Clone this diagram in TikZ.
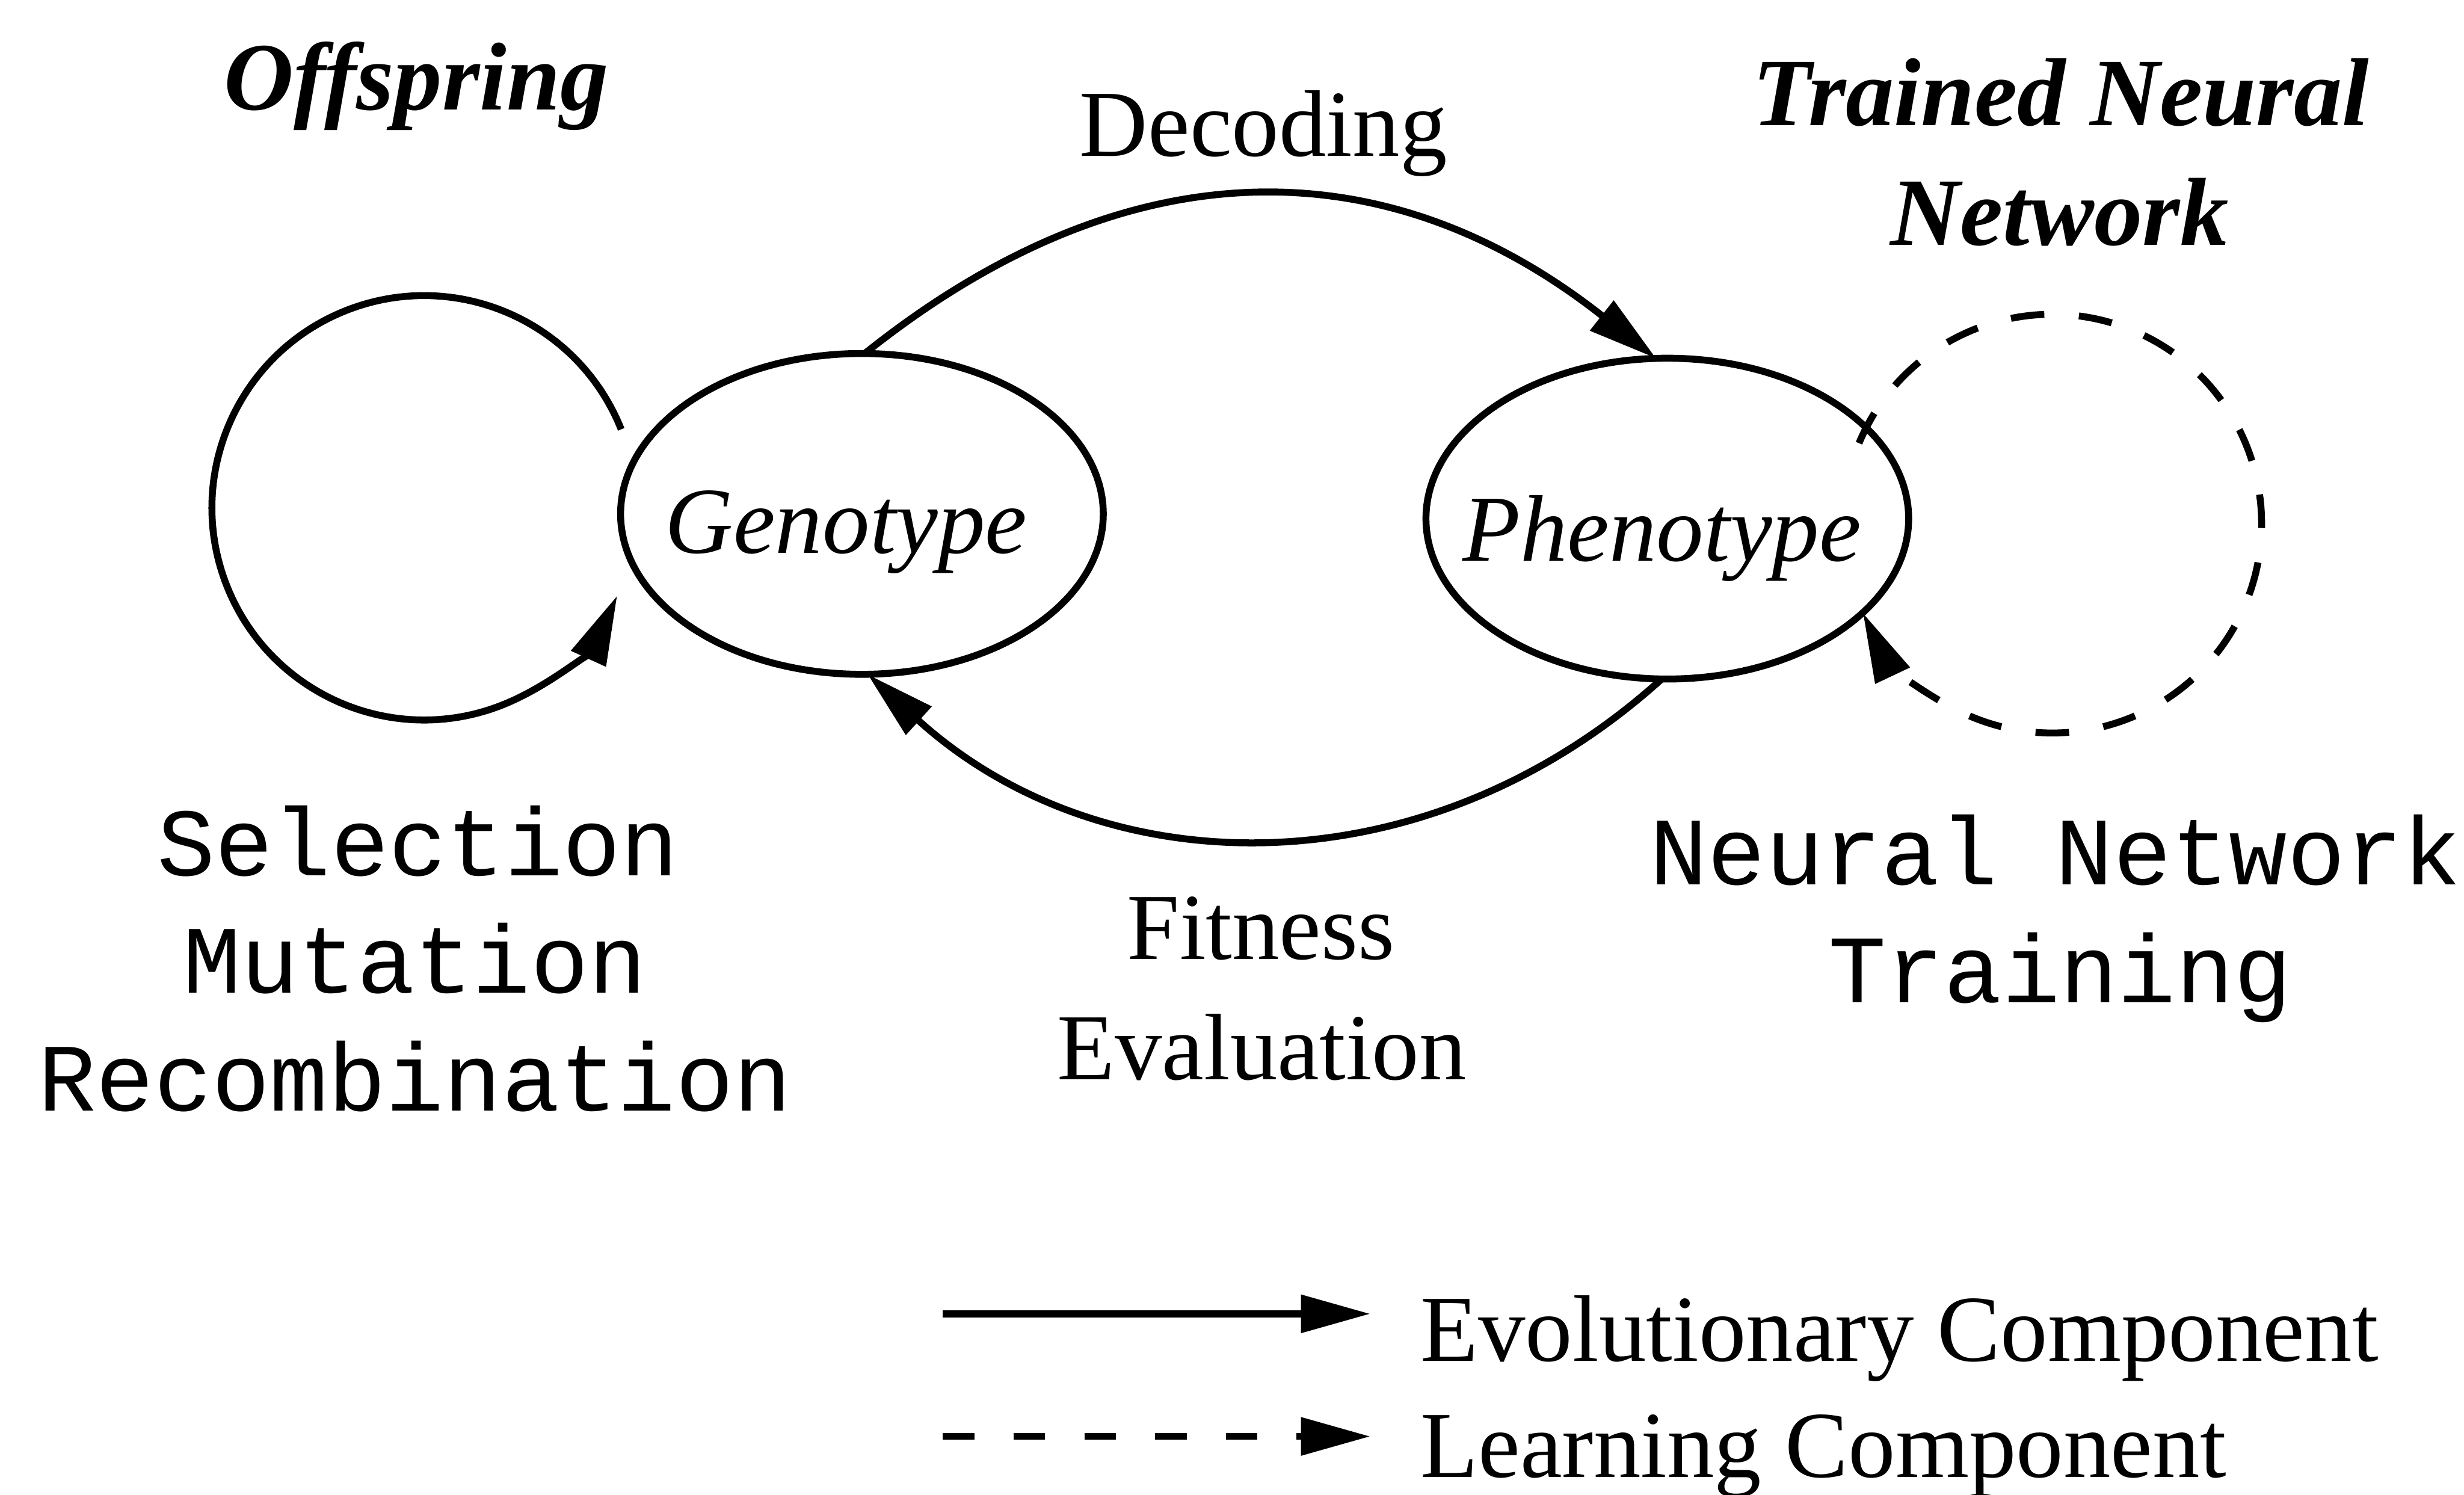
\documentclass[tikz,border=0pt]{standalone}
\usepackage{fontspec}
\setmainfont{Liberation Serif}
\setmonofont{Liberation Mono}
\usetikzlibrary{arrows.meta,shapes.geometric}
\begin{document}
\begin{tikzpicture}[x=0.02631cm,y=-0.02631cm,
  every node/.style={inner sep=0pt,outer sep=0pt},
  state/.style={draw,ellipse,line width=3.3pt,minimum width=8.08cm,minimum height=5.37cm},
  statetxt/.style={font=\fontsize{45}{56}\selectfont\itshape,anchor=base},
  txtserif/.style={font=\fontsize{45}{56}\selectfont,anchor=base},
  txttitle/.style={font=\fontsize{46}{56}\selectfont\bfseries\itshape,anchor=base},
  txtmono/.style={font=\fontsize{46}{56}\selectfont\ttfamily,anchor=base},
  tiphead/.style={-{Triangle[length=33pt,width=17.5pt]}},
  evo/.style={line width=3.3pt,tiphead},
  learn/.style={line width=3.3pt,tiphead,dash pattern=on 16pt off 16.5pt},
  learnkey/.style={line width=3.3pt,tiphead,dash pattern=on 15pt off 18.7pt},
]
\useasboundingbox (0,0) rectangle (1568,951);

% the two states
\node[state] (geno) at (548.5,327) {};
\node[state] (pheno) at (1061,330) {};
\node[statetxt] (genotxt) at (538.5,352) {Genotype};
\node[statetxt] (phenotxt) at (1057.5,357) {Phenotype};

% decoding and fitness evaluation
\draw[evo] (geno.89) .. controls (719,90) and (884,94) .. (pheno.94);
\draw[evo] (pheno.268) .. controls (907,568) and (702,565) .. (geno.272);

% evolutionary loop on the genotype
\coordinate (lpA) at (395.3,273.2);
\draw[evo] (lpA) arc[start angle=-21.7,end angle=-335.5,radius=135];

% learning loop on the phenotype
\coordinate (lpB) at (1183,282);
\draw[learn] (lpB) arc[start angle=-157.4,end angle=154.7,radius=133.2];

% labels
\node[txttitle] (offs) at (265,70) {Offspring};
\node[txtserif] (dec) at (804,99.5) {Decoding};
\node[txttitle] (tnn1) at (1311.5,80) {Trained Neural};
\node[txttitle] (tnn2) at (1310.5,156) {Network};
\node[txtmono] (sel) at (266,557) {Selection};
\node[txtmono] (mut) at (264,632) {Mutation};
\node[txtmono] (rec) at (264,707) {Recombination};
\node[txtmono] (nnt1) at (1308,563) {Neural Network};
\node[txtmono] (nnt2) at (1311,638) {Training};
\node[txtserif] (fit1) at (802.5,610.5) {Fitness};
\node[txtserif] (fit2) at (803,687) {Evaluation};

% legend
\coordinate (keyA1) at (600,836);
\coordinate (keyA2) at (872,836);
\coordinate (keyB1) at (600,914);
\coordinate (keyB2) at (872,914);
\draw[evo] (keyA1) -- (keyA2);
\draw[learnkey] (keyB1) -- (keyB2);
\node[txtserif,anchor=base west] (keyAtxt) at (904,866) {Evolutionary Component};
\node[txtserif,anchor=base west] (keyBtxt) at (904,940) {Learning Component};
\end{tikzpicture}
\end{document}
